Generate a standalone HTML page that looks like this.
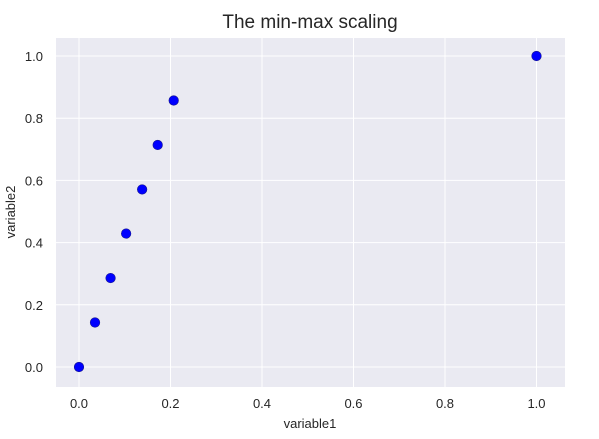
<!DOCTYPE html>
<html><head><meta charset="utf-8"><style>
html,body{margin:0;padding:0;background:#fff;}
svg{display:block;font-family:"Liberation Sans",Arial,sans-serif;}
</style></head><body>
<svg id="chart" width="599" height="439">
<rect x="56" y="38" width="509" height="349" fill="#eaeaf2"/>
<g id="grid"></g><g id="ticks"></g><g id="points"></g>
<text x="310" y="28" text-anchor="middle" font-size="19" fill="#262626">The min-max scaling</text>
<text x="310" y="428" text-anchor="middle" font-size="13" fill="#262626">variable1</text>
<text x="15" y="212" text-anchor="middle" font-size="13" fill="#262626" transform="rotate(-90 15 212)">variable2</text>
</svg>
<script>
const xValues=[0,0.035,0.069,0.103,0.138,0.172,0.207,1.0];
const yValues=[0,0.143,0.286,0.429,0.571,0.714,0.857,1.0];
const xTicks=[0,0.2,0.4,0.6,0.8,1.0];
const yTicks=[0,0.2,0.4,0.6,0.8,1.0];
const xTickLabels=["0.0","0.2","0.4","0.6","0.8","1.0"];
const yTickLabels=["0.0","0.2","0.4","0.6","0.8","1.0"];
const NS="http://www.w3.org/2000/svg";
function sx(v){return 79+v*457.5;}
function sy(v){return 367-v*311;}
const grid=document.getElementById('grid'),ticks=document.getElementById('ticks'),pts=document.getElementById('points');
function mk(tag,attrs,parent){const e=document.createElementNS(NS,tag);for(const k in attrs)e.setAttribute(k,attrs[k]);parent.appendChild(e);return e;}
xTicks.forEach((t,i)=>{
 const l=mk('line',{x1:sx(t),x2:sx(t),y1:38,y2:387,stroke:'#fff','stroke-width':1},grid);
 
 
 const tx=mk('text',{x:sx(t),y:408,'text-anchor':'middle','font-size':13,fill:'#262626'},ticks);
 tx.textContent=xTickLabels[i];
 
 
});
yTicks.forEach((t,i)=>{
 const l=mk('line',{x1:56,x2:565,y1:sy(t),y2:sy(t),stroke:'#fff','stroke-width':1},grid);
 
 
 const tx=mk('text',{x:43,y:sy(t)+5,'text-anchor':'end','font-size':13,fill:'#262626'},ticks);
 tx.textContent=yTickLabels[i];
 
 
});
xValues.forEach((v,i)=>{
 const c=mk('circle',{cx:sx(v),cy:sy(yValues[i]),r:4.8,fill:'#0000ff',stroke:'#1a1a8c','stroke-width':0.6},pts);
 
 
});
</script>
</body></html>
